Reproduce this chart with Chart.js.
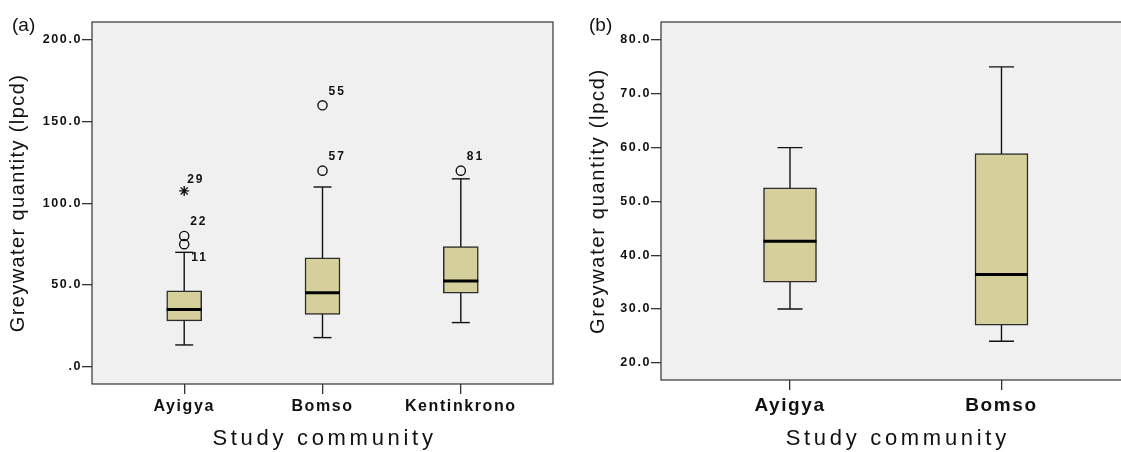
<!DOCTYPE html>
<html>
<head>
<meta charset="utf-8">
<script src="https://cdn.jsdelivr.net/npm/chart.js@4.4.1/dist/chart.umd.min.js"></script>
<style>
    html, body { margin: 0; padding: 0; background: #fff; overflow: hidden; width: 1121px; height: 452px; }
    canvas { position: absolute; top: 0; }
    #chartA { left: 0; }
    #chartB { left: 560px; }
</style>
</head>
<body>
<canvas id="chartA" width="560" height="452"></canvas>
<canvas id="chartB" width="580" height="452"></canvas>
<script>
// (a) greywater per community
const communitiesA = ['Ayigya', 'Bomso', 'Kentinkrono']
const lowA = [13.3, 17.8, 27]
const q1A = [28, 32, 45]
const medianA = [35, 45.3, 52.5]
const q3A = [46.5, 66.7, 73.5]
const highA = [70, 110, 115]
const outlierCatA = [0, 0, 0, 1, 1, 2]
const outlierValA = [75, 80, 107.6, 120, 160, 120]
const outlierIdA = ['11', '22', '29', '57', '55', '81']
const outlierExtremeA = [false, false, true, false, false, false]
const yTicksA = [0, 50, 100, 150, 200]

// (b) two communities
const communitiesB = ['Ayigya', 'Bomso']
const lowB = [30, 24]
const q1B = [35, 27]
const medianB = [42.6, 36.4]
const q3B = [52.5, 58.9]
const highB = [60, 75]
const yTicksB = [20, 30, 40, 50, 60, 70, 80]

Chart.defaults.font.family = "'Liberation Sans', Arial, sans-serif"

const BOX_FILL = '#d4cf9b'
const INK = '#111'

const framePlugin = {
    id: 'frame',
    beforeDraw(chart) {
        const { ctx, chartArea: a } = chart
        ctx.save()
        ctx.fillStyle = '#f0f0f0'
        ctx.fillRect(a.left, a.top, a.right - a.left, a.bottom - a.top)
        ctx.restore()
        ctx.letterSpacing = '1.6px'
    },
    afterDraw(chart) {
        const { ctx, chartArea: a } = chart
        const p = chart.config.options.plugins.frame
        const xs = chart.scales.x, ys = chart.scales.y
        ctx.save()
        ctx.strokeStyle = '#333'
        ctx.lineWidth = 1.2
        ctx.strokeRect(a.left, a.top, a.right - a.left, a.bottom - a.top)

        ctx.fillStyle = INK
        // outlier case numbers
        ctx.font = "bold 12px 'Liberation Sans', Arial"
        ctx.letterSpacing = '2px'
        ctx.textAlign = 'left'
        ctx.textBaseline = 'middle'
        ;(p.ids || []).forEach((id, i) => {
            const x = xs.getPixelForValue(p.cats[i] + 1) + p.labelDx[i]
            const y = ys.getPixelForValue(p.vals[i]) + p.labelDy[i]
            ctx.fillText(id, x, y)
        })

        // axis titles
        ctx.font = "22px 'Liberation Sans', Arial"
        ctx.letterSpacing = '3.7px'
        ctx.textAlign = 'center'
        ctx.fillText('Study community', (a.left + a.right) / 2 + 2, 439)

        ctx.save()
        ctx.translate(p.yTitleX, (a.top + a.bottom) / 2)
        ctx.rotate(-Math.PI / 2)
        ctx.font = "20px 'Liberation Sans', Arial"
        ctx.letterSpacing = p.yTitleSpacing
        ctx.fillText('Greywater quantity (lpcd)', 0, 0)
        ctx.restore()

        // panel tag
        ctx.font = "19px 'Liberation Sans', Arial"
        ctx.letterSpacing = '0px'
        ctx.textAlign = 'left'
        ctx.textBaseline = 'alphabetic'
        ctx.fillText(p.tag, p.tagX, 31)
        ctx.restore()
    }
}

function noPadding(s) {
    s.paddingLeft = 0
    s.paddingRight = 0
    s.paddingTop = 0
    s.paddingBottom = 0
}

function boxChart(canvas, p) {
    const xs = p.cats.map((c, i) => i + 1)
    const stems = []
    xs.forEach((x, i) => stems.push({ x, y: p.low[i] }, { x, y: p.high[i] }, { x, y: null }))
    const caps = []
    xs.forEach((x, i) => caps.push({ x, y: p.low[i] }, { x, y: p.high[i] }))
    const outCats = p.outCat || []
    const circles = outCats.map((c, i) => ({ x: c + 1, y: p.outVal[i] })).filter((d, i) => !p.outExtreme[i])
    const stars = outCats.map((c, i) => ({ x: c + 1, y: p.outVal[i] })).filter((d, i) => p.outExtreme[i])

    const datasets = [
        {
            type: 'scatter', data: circles, pointStyle: 'circle', pointRadius: 4.6,
            borderColor: INK, backgroundColor: 'rgba(0,0,0,0)', pointBorderWidth: 1.4, borderWidth: 1.4, order: 0
        },
        {
            type: 'scatter', data: stars, pointStyle: 'star', pointRadius: 5,
            borderColor: INK, backgroundColor: 'rgba(0,0,0,0)', pointBorderWidth: 1.4, borderWidth: 1.4, order: 0
        },
        {
            type: 'scatter', data: xs.map((x, i) => ({ x, y: p.median[i] })), pointStyle: 'line',
            pointRadius: p.boxW / 2, borderColor: '#000', pointBorderWidth: 3, borderWidth: 3, order: 1
        },
        {
            type: 'scatter', data: caps, pointStyle: 'line',
            pointRadius: p.capW / 2, borderColor: INK, pointBorderWidth: 1.4, borderWidth: 1.4, order: 1
        },
        {
            type: 'bar', data: xs.map((x, i) => ({ x, y: [p.q1[i], p.q3[i]] })),
            backgroundColor: BOX_FILL, borderColor: '#2b2b2b', borderWidth: 1.5, borderSkipped: false,
            barThickness: p.boxW, order: 2
        },
        {
            type: 'line', data: stems, borderColor: INK, borderWidth: 1.4, pointRadius: 0,
            spanGaps: false, order: 3
        },
    ]

    return new Chart(canvas, {
        type: 'bar',
        data: { datasets },
        options: {
            responsive: false,
            animation: false,
            events: [],
            layout: { autoPadding: false, padding: { top: 22, right: p.padRight, left: 0, bottom: 0 } },
            plugins: {
                legend: { display: false },
                tooltip: { enabled: false },
                frame: {
                    ids: p.outId, cats: p.outCat, vals: p.outVal,
                    labelDx: p.labelDx, labelDy: p.labelDy,
                    yTitleX: p.yTitleX, yTitleSpacing: p.yTitleSpacing,
                    tag: p.tag, tagX: p.tagX
                }
            },
            scales: {
                x: {
                    type: 'linear', min: p.xMin, max: p.xMax, offset: false,
                    afterBuildTicks: s => { s.ticks = xs.map(v => ({ value: v })) },
                    afterFit: s => { s.height = p.xAxisH; noPadding(s) },
                    ticks: {
                        callback: v => p.cats[v - 1], autoSkip: false, maxRotation: 0,
                        font: { size: p.catSize, weight: 'bold' }, color: INK, padding: p.catPad
                    },
                    grid: { offset: false, drawOnChartArea: false, drawTicks: true, tickLength: 10, color: '#333', lineWidth: 1.3 },
                    border: { display: false }
                },
                y: {
                    type: 'linear', min: p.yMin, max: p.yMax,
                    afterBuildTicks: s => { s.ticks = p.yTicks.map(v => ({ value: v })) },
                    afterFit: s => { s.width = p.yAxisW; noPadding(s) },
                    ticks: {
                        callback: v => v === 0 ? '.0' : v.toFixed(1),
                        font: { size: 12.5, weight: 'bold' }, color: INK, padding: 0
                    },
                    grid: { drawOnChartArea: false, drawTicks: true, tickLength: 10, color: '#333', lineWidth: 1.3 },
                    border: { display: false }
                }
            }
        },
        plugins: [framePlugin]
    })
}

boxChart(document.getElementById('chartA'), {
    cats: communitiesA, low: lowA, q1: q1A, median: medianA, q3: q3A, high: highA,
    outCat: outlierCatA, outVal: outlierValA, outId: outlierIdA, outExtreme: outlierExtremeA,
    labelDx: [7, 6, 3, 6, 6, 6], labelDy: [14, -14, -11, -14, -14, -14],
    yTicks: yTicksA, yMin: -10.6, yMax: 211, xMin: 1 / 3, xMax: 11 / 3,
    boxW: 35, capW: 18, yAxisW: 92, xAxisH: 68, padRight: 7,
    catSize: 16, catPad: 3, yTitleX: 18, yTitleSpacing: '1.4px', tag: '(a)', tagX: 12
})

boxChart(document.getElementById('chartB'), {
    cats: communitiesB, low: lowB, q1: q1B, median: medianB, q3: q3B, high: highB,
    outCat: [], outVal: [], outId: [], outExtreme: [], labelDx: [], labelDy: [],
    yTicks: yTicksB, yMin: 16.8, yMax: 83.35, xMin: 0.39, xMax: 2.61,
    boxW: 53, capW: 25, yAxisW: 101, xAxisH: 72, padRight: 9.5,
    catSize: 19, catPad: 4, yTitleX: 38, yTitleSpacing: '1.7px', tag: '(b)', tagX: 29
})
</script>
</body>
</html>
